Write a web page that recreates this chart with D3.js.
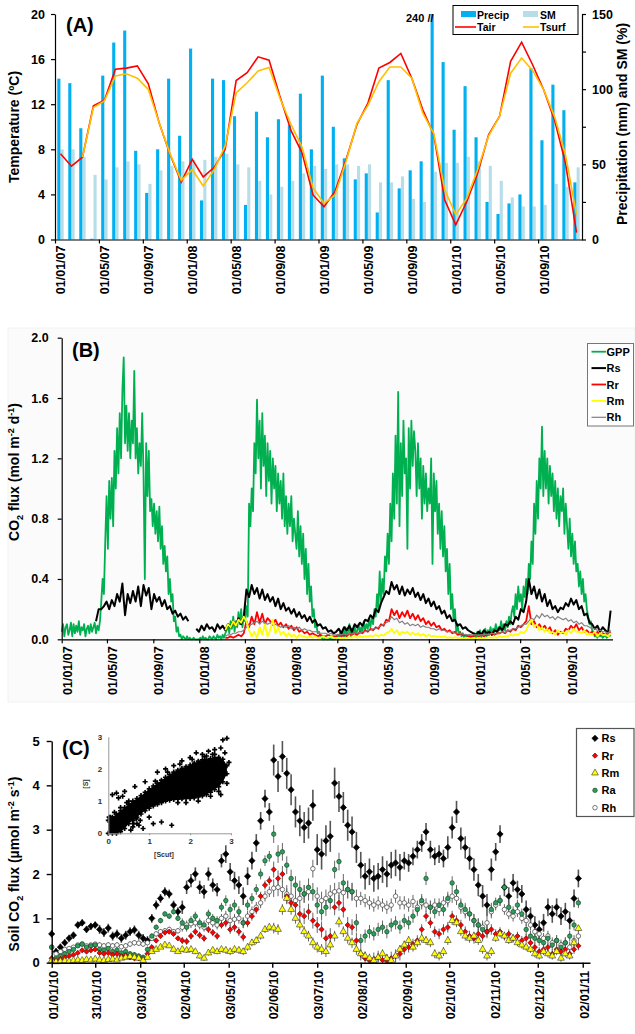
<!DOCTYPE html>
<html><head><meta charset="utf-8">
<script src="https://cdn.jsdelivr.net/npm/d3@7/dist/d3.min.js"></script>
<style>
body{margin:0;background:#fff}
svg{display:block}
text{font-family:"Liberation Sans",Arial,Helvetica,sans-serif;font-weight:bold}
</style></head><body>
<svg id="c" width="635" height="1034"></svg>
<script>
// ---------------- Panel A (monthly, Jan 2007 - Dec 2010) ----------------
const tickLabelsA = ["01/01/07","01/05/07","01/09/07","01/01/08","01/05/08","01/09/08","01/01/09","01/05/09","01/09/09","01/01/10","01/05/10","01/09/10"];
const precip = [107,104,74,0.5,109,131,139,59,31,60,107,69, 127,26,107,106,82,23,85,68,80,76,97,60, 109,75,54,40,44,18,106,34,46,52,240,118, 73,102,68,25,17,24,30,114,66,103,86,38];
const sm = [60,60,55,43,40,48,52,50,37,46,49,52, 53,53,55,57,50,48,39,30,35,39,44,49, 47,50,50,49,50,38,38,42,27,25,45,51, 51,55,52,49,39,28,22,22,23,37,35,48];
const tair = [7.6,6.5,7.3,11.85,12.35,15.1,15.2,15.4,13.8,10.3,7.5,5.1, 7.1,5.55,6.4,8.0,14.1,14.8,16.2,15.9,12.65,9.65,7.7,3.95, 2.9,4.25,7.05,10.2,12.1,15.2,15.7,16.5,14.3,11.5,9.3,3.5, 1.3,3.35,5.9,9.3,10.95,15.8,17.5,15.5,13.3,10.6,6.75,0.6];
const tsurf = [null,null,7.3,11.7,12.3,14.5,14.7,14.3,13.3,10.3,7.55,5.25, 6.2,4.75,6.2,8.3,13.0,13.9,14.95,15.25,12.5,10.2,8.2,4.6, 3.2,3.95,6.9,10.3,11.9,14.0,15.3,15.3,14.3,11.2,9.4,4.4, 2.2,3.65,6.2,9.2,10.95,14.75,16.1,15.0,13.3,10.9,7.5,2.2];

// ---------------- Panel B ----------------
// GPP sampled every 3.5 days from 01/01/07
const gpp2007 = [0.05,0.1,0.02,0.08,0.1,0.03,0.06,0.11,0.02,0.1,0.04,0.09,0.05,0.12,0.03,0.08,0.06,0.1,0.02,0.07,0.09,0.04,0.1,0.05,0.08,0.11,0.04,0.09,0.06,
 0.12,0.25,0.4,0.3,0.65,0.95,0.6,1.05,0.8,1.07,0.75,1.25,1.0,1.4,1.1,1.5,1.2,1.65,1.87,1.3,1.55,1.25,1.5,1.2,1.45,1.3,1.78,1.2,1.4,1.1,1.3,1.15,1.5,1.1,0.4,1.3,0.95,1.25,0.85,0.93,0.75,0.9,0.7,0.85,0.65,0.88,0.6,0.75,0.5,0.62,0.45,0.55,0.3,0.4,0.25,0.3,0.12,0.15,0.05,0.08,0.02,
 0.03,0.0,0.02,0.01,0.0,0.02,0.0,0.01,0.0,0.0,0.01,0.0,0.0,0.0];
const gpp2008 = [0.0,0.01,0.0,0.02,0.0,0.01,0.0,0.0,0.02,0.01,0.0,0.02,0.01,0.0,0.03,0.01,0.02,0.0,0.03,0.01,0.04,
 0.06,0.1,0.04,0.12,0.07,0.15,0.05,0.12,0.08,0.18,0.1,0.2,0.08,0.15,0.12,0.22,0.15,
 0.9,0.75,1.0,0.85,1.3,1.1,1.59,1.2,1.45,1.0,1.5,1.15,1.35,0.95,1.3,1.05,1.25,0.9,1.2,1.0,1.15,0.85,1.1,0.9,1.05,0.8,1.1,0.75,0.95,0.7,0.9,0.75,0.95,0.65,0.8,0.7,0.6,0.85,0.55,0.75,0.5,0.7,0.4,0.6,0.3,0.5,0.25,0.35,0.15,0.2,0.08,0.1,0.04,0.05,0.02,0.01,0.0,
 0.0,0.01,0.0,0.0,0.01,0.0,0.0,0.0,0.0];
const gpp2009 = [0.01,0.03,0.0,0.05,0.02,0.06,0.01,0.08,0.03,0.05,0.1,0.02,0.07,0.04,0.09,0.03,0.06,0.1,0.04,0.08,0.05,0.12,0.06,0.1,0.07,0.13,0.08,0.15,0.1,0.2,0.15,0.3,0.2,0.45,
 0.25,0.4,0.3,0.55,0.45,0.7,0.5,0.9,0.65,1.1,0.8,1.35,0.9,1.64,0.75,1.3,0.95,1.45,1.1,1.2,0.6,1.4,1.0,1.45,1.15,1.38,1.25,0.95,1.3,1.0,1.2,0.8,1.15,0.9,1.1,0.85,1.0,
 0.9,1.2,0.5,1.1,0.85,1.05,0.7,0.9,0.6,0.85,0.55,0.75,0.45,0.6,0.3,0.5,0.2,0.3,0.12,0.2,0.05,0.1,0.03,0.05,
 0.02,0.04,0.01,0.03,0.02,0.01,0.03,0.01,0.02];
const gpp2010 = [0.02,0.04,0.0,0.05,0.02,0.06,0.01,0.05,0.03,0.07,0.02,0.06,0.04,0.08,0.03,0.07,0.05,0.1,0.04,0.08,0.06,0.12,0.07,
 0.1,0.06,0.12,0.08,0.15,0.1,0.18, 0.22,0.15,0.3,0.2,0.35,0.25,0.3,0.2,0.35,0.28,0.4,0.3,0.5,
 0.4,0.65,0.5,0.9,0.7,1.05,0.8,1.2,1.0,1.41, 0.95,1.25,1.0,1.2,0.9,1.15,0.95,1.1,
 0.85,1.05,0.8,1.0,0.75,0.95,0.85,1.0,0.7,0.9,0.75, 0.6,0.8,0.55,0.7,0.5,0.65,0.45, 0.5,0.35,0.45,0.3,0.4,0.25,0.3,0.2,
 0.15,0.1,0.12,0.06,0.05, 0.02,0.03,0.01,0.04,0.02,0.03,0.01,0.02,0.03,0.01,0.02,0.03,0.02];
// respiration terms sampled weekly from 01/01/07
const rs2007 = [null,null,null,null,null,null,null,null,null,null,null,null,null,0.12,0.2,0.2,0.22,0.25,0.2,0.26,0.22,0.3,0.25,0.37,0.16,0.3,0.24,0.32,0.25,0.35,0.22,0.36,0.29,0.34,0.2,0.3,0.25,0.28,0.22,0.26,0.2,0.22,0.17,0.19,0.15,0.17,0.13,0.15,0.12,null,null,0.07];
const rs2008 = [0.05,0.09,0.06,0.1,0.07,0.08,0.05,0.1,0.07,0.09,0.06,0.1,0.08,0.12,0.09,0.14,0.1,0.15,0.33,0.28,0.36,0.3,0.34,0.27,0.33,0.26,0.3,0.25,0.28,0.22,0.27,0.2,0.24,0.19,0.21,0.17,0.2,0.15,0.18,0.14,0.16,0.12,0.15,0.11,0.13,0.09,0.1,0.07,0.08,0.05,0.06,0.04];
const rs2009 = [0.05,0.07,0.04,0.08,0.06,0.09,0.05,0.1,0.08,0.11,0.09,0.13,0.12,0.16,0.14,0.2,0.18,0.24,0.28,0.32,0.3,0.38,0.33,0.36,0.3,0.35,0.29,0.33,0.3,0.34,0.28,0.31,0.26,0.3,0.24,0.27,0.22,0.25,0.2,0.22,0.17,0.19,0.14,0.16,0.12,0.13,0.09,0.1,0.07,0.08,0.06,0.05];
const rs2010 = [0.04,0.03,0.05,0.03,0.06,0.04,0.05,0.03,0.06,0.05,0.08,0.06,0.1,0.09,0.12,0.1,0.15,0.13,0.2,0.18,0.25,0.4,0.3,0.35,0.27,0.33,0.25,0.3,0.22,0.26,0.2,0.22,0.18,0.21,0.2,0.24,0.22,0.27,0.23,0.26,0.2,0.22,0.16,0.17,0.11,0.1,0.07,0.09,0.05,0.08,0.06,0.04,0.19];
const rr2008 = [null,null,null,null,null,null,null,null,null,null,0.01,0.01,0.02,0.01,0.02,0.03,0.02,0.04,0.12,0.08,0.15,0.1,0.18,0.11,0.17,0.1,0.14,0.12,0.1,0.13,0.09,0.11,0.08,0.1,0.07,0.09,0.06,0.08,0.05,0.06,0.04,0.05,0.03,0.04,0.03,0.02,0.03,0.02,0.02,0.03,0.02,0.02];
const rr2009 = [0.02,0.03,0.02,0.03,0.02,0.04,0.03,0.04,0.03,0.05,0.04,0.06,0.05,0.07,0.06,0.08,0.07,0.1,0.09,0.13,0.12,0.2,0.16,0.19,0.14,0.18,0.15,0.19,0.14,0.17,0.13,0.16,0.12,0.14,0.1,0.12,0.09,0.11,0.08,0.09,0.06,0.07,0.05,0.06,0.04,0.05,0.03,0.04,0.03,0.03,0.02,0.02];
const rr2010 = [0.02,0.03,0.02,0.03,0.02,0.03,0.03,0.04,0.03,0.04,0.04,0.05,0.04,0.06,0.05,0.07,0.06,0.09,0.08,0.1,0.12,0.22,0.1,0.12,0.08,0.1,0.07,0.09,0.06,0.08,0.04,0.06,0.03,0.05,0.04,0.07,0.06,0.09,0.07,0.1,0.06,0.08,0.05,0.06,0.04,0.05,0.03,0.05,0.03,0.04,0.03,0.04,0.05];
const rm2008 = [null,null,null,null,null,null,null,null,null,null,0.06,0.1,0.08,0.12,0.09,0.13,0.11,0.15,0.12,0.06,0.02,0.05,0.01,0.08,0.03,0.1,0.02,0.06,0.13,0.04,0.08,0.03,0.05,0.02,0.04,0.02,0.03,0.01,0.03,0.02,0.02,0.01,0.02,0.01,0.02,0.01,0.01,0.02,0.01,0.01,0.02,0.01];
const rm2009 = [0.01,0.01,0.005,0.01,0.01,0.015,0.01,0.02,0.01,0.02,0.015,0.02,0.02,0.025,0.02,0.03,0.02,0.03,0.025,0.04,0.05,0.07,0.04,0.06,0.03,0.05,0.04,0.05,0.03,0.045,0.03,0.04,0.025,0.035,0.02,0.03,0.02,0.025,0.015,0.02,0.015,0.02,0.01,0.015,0.01,0.015,0.01,0.01,0.005,0.01,0.01,0.005];
const rm2010 = [0.01,0.005,0.01,0.005,0.01,0.01,0.015,0.01,0.015,0.01,0.02,0.015,0.02,0.02,0.03,0.025,0.035,0.03,0.05,0.04,0.06,0.1,0.13,0.08,0.1,0.06,0.08,0.05,0.07,0.04,0.05,0.03,0.06,0.04,0.05,0.03,0.06,0.04,0.07,0.05,0.05,0.04,0.06,0.03,0.04,0.03,0.05,0.02,0.04,0.03,0.03,0.02,0.04];
const rh2008 = [null,null,null,null,null,null,null,null,null,null,0.02,0.03,0.03,0.04,0.04,0.05,0.05,0.06,0.08,0.09,0.1,0.11,0.12,0.1,0.12,0.11,0.1,0.11,0.09,0.1,0.09,0.08,0.09,0.08,0.09,0.07,0.08,0.07,0.08,0.06,0.07,0.06,0.06,0.05,0.05,0.05,0.04,0.04,0.04,0.03,0.04,0.03];
const rh2009 = [0.03,0.03,0.03,0.035,0.03,0.04,0.035,0.04,0.04,0.045,0.05,0.05,0.06,0.06,0.07,0.07,0.08,0.09,0.1,0.11,0.12,0.15,0.13,0.14,0.11,0.12,0.1,0.11,0.09,0.1,0.09,0.1,0.08,0.09,0.08,0.08,0.07,0.07,0.06,0.07,0.06,0.06,0.05,0.05,0.05,0.04,0.04,0.04,0.035,0.03,0.03,0.03];
const rh2010 = [0.03,0.03,0.025,0.03,0.03,0.035,0.03,0.04,0.035,0.04,0.04,0.05,0.045,0.06,0.06,0.07,0.07,0.08,0.09,0.1,0.1,0.12,0.14,0.13,0.16,0.14,0.17,0.15,0.16,0.14,0.15,0.13,0.15,0.14,0.13,0.14,0.12,0.13,0.11,0.12,0.1,0.11,0.09,0.09,0.08,0.07,0.07,0.06,0.06,0.05,0.05,0.04,0.06];
const nullYear = [null,null,null,null,null,null,null,null,null,null,null,null,null,null,null,null,null,null,null,null,null,null,null,null,null,null,null,null,null,null,null,null,null,null,null,null,null,null,null,null,null,null,null,null,null,null,null,null,null,null,null,null];

// ---------------- Panel C (every 3rd day of 2010) ----------------
const cRs = [0.65,0.25,0.35,0.45,0.55,0.62,0.85,0.9,0.75,0.82, 0.85,0.75,0.68,0.78,0.6,0.65,0.55,0.62,0.7,0.74, 0.62,0.55,0.5,1.0,1.3,1.45,1.6,1.55,1.3,1.15, 1.25,1.7,1.85,2.0,1.7,1.6,2.0,1.75,1.65,2.3, 2.45,2.05,1.85,1.75,1.5,1.95,2.3,2.7,3.2,3.7, 3.4,4.57,4.2,4.65,4.27,3.9,3.4,3.2,3.05,3.15, 3.55,2.55,2.45,2.75,2.85,4.05,3.75,3.5,3.1,2.95, 2.6,2.2,1.95,2.05,1.9,1.95,2.1,2.0,2.2,2.25, 2.15,2.3,2.25,2.4,2.55,2.7,2.95,2.55,2.4,2.45, 2.35,2.6,3.05,3.4,2.8,2.6,2.35,2.1,1.75,1.5, 1.3,2.1,2.5,2.9,1.7,1.5,1.8,1.65,1.55,1.2, 1.05,0.85,0.75,0.9,1.25,1.1,1.25,1.05,1.15,0.95, 1.45,1.9];
const cRr = [0.1,0.05,0.08,0.12,0.15,0.18,0.22,0.28,0.25,0.28, 0.3,0.22,0.2,0.22,0.18,0.2,0.15,0.17,0.12,0.1, 0.1,0.08,0.2,0.35,0.5,0.6,0.68,0.7,0.65,0.55, 0.5,0.48,0.6,0.7,0.62,0.55,0.75,0.68,0.6,0.85, 0.9,0.75,0.8,0.7,0.58,0.9,1.05,1.2,1.5,1.75, 1.85,2.1,1.9,2.0,1.5,1.35,1.3,1.1,1.05,1.15, 0.95,0.85,0.75,0.55,0.6,1.25,1.35,1.2,0.85,0.8, 0.5,0.2,0.1,0.05,0.08,0.12,0.06,0.04,0.1,0.15, 0.2,0.3,0.35,0.42,0.5,0.75,1.05,0.9,0.7,0.65, 0.75,0.8,1.05,0.95,0.85,0.7,0.6,0.55,0.65,0.6, 0.7,0.75,0.65,0.7,0.6,0.65,0.55,0.6,0.5,0.55, 0.45,0.35,0.25,0.3,0.35,0.2,0.3,0.25,0.3,0.2, 0.3,0.38];
const cRm = [0.05,0.02,0.03,0.04,0.03,0.05,0.06,0.05,0.07,0.06, 0.08,0.06,0.05,0.07,0.08,0.06,0.1,0.12,0.14,0.12, 0.1,0.05,0.12,0.25,0.3,0.35,0.4,0.38,0.3,0.25, 0.3,0.28,0.3,0.25,0.15,0.1,0.22,0.28,0.25,0.3, 0.28,0.25,0.3,0.28,0.25,0.35,0.45,0.5,0.6,0.75, 0.8,0.78,0.75,1.2,1.45,1.2,1.0,0.85,0.7,0.6, 0.45,0.35,0.3,0.25,0.4,0.6,0.92,0.7,0.55,0.45, 0.3,0.2,0.15,0.1,0.05,0.12,0.2,0.1,0.05,0.15, 0.3,0.4,0.5,0.35,0.45,0.55,0.5,0.45,0.2,0.15, 0.25,0.5,0.95,0.9,0.7,0.6,0.55,0.6,0.5,0.3, 0.15,0.25,0.55,0.65,0.6,0.5,0.55,0.45,0.4,0.35, 0.3,0.2,0.15,0.25,0.2,0.15,0.25,0.1,0.2,0.15, 0.45,0.77];
const cRa = [0.35,0.1,0.15,0.2,0.25,0.3,0.38,0.42,0.35,0.38, 0.4,0.3,0.28,0.32,0.25,0.28,0.22,0.25,0.2,0.18, 0.15,0.12,0.3,0.6,0.8,0.95,1.1,1.05,1.15,1.0, 0.9,0.8,0.95,1.05,0.9,0.85,1.1,1.0,0.95,1.25, 1.4,1.2,1.3,1.15,0.9,1.3,1.45,1.65,2.0,2.3, 2.4,2.9,2.45,2.5,2.2,1.9,1.75,1.65,1.55,1.7, 1.6,1.3,1.15,1.25,1.4,2.1,2.28,1.8,1.65,1.6, 0.9,0.5,0.6,0.7,0.65,0.75,0.8,0.7,0.85,0.9, 0.8,0.95,0.9,1.05,1.2,1.4,1.9,1.25,1.15,1.3, 1.2,1.45,1.8,1.6,1.3,1.2,1.1,0.95,0.85,0.75, 0.7,1.2,1.35,1.4,1.7,1.25,1.15,1.3,1.1,0.75, 0.6,0.55,0.5,0.45,0.55,0.4,0.5,0.35,0.45,0.6, 0.85,1.35];
const cRh = [0.35,0.2,0.25,0.3,0.32,0.35,0.4,0.42,0.38,0.4, 0.42,0.4,0.38,0.4,0.38,0.4,0.36,0.38,0.42,0.45, 0.44,0.42,0.45,0.55,0.65,0.7,0.72,0.75,0.7,0.72, 0.8,0.85,0.88,0.9,0.85,0.8,0.95,0.9,0.85,1.0, 1.05,0.95,0.98,1.0,0.9,1.05,1.15,1.25,1.35,1.5, 1.6,1.68,1.7,1.65,1.55,1.5,1.4,1.45,1.55,1.6, 2.12,1.5,1.4,1.45,1.55,1.6,1.62,1.58,1.65,1.6, 1.45,1.45,1.4,1.35,1.3,1.35,1.3,1.25,1.3,1.5, 1.35,1.35,1.3,1.38,1.25,1.35,1.3,1.25,1.3,1.2, 1.35,1.4,1.5,1.45,1.25,1.15,1.1,0.95,0.85,0.8, 0.9,1.15,1.3,1.4,1.2,1.1,1.05,1.15,1.0,0.95, 0.85,0.7,0.65,0.55,0.6,0.45,0.5,0.4,0.45,0.35, 0.5,0.6];
// monthly typical error (half-length of the vertical bars)
const errRs = [0.08,0.1,0.1,0.15,0.2,0.35,0.35,0.3,0.2,0.25,0.2,0.2];
const errRr = [0.03,0.05,0.05,0.08,0.1,0.18,0.18,0.15,0.12,0.12,0.1,0.1];
const errRm = [0.02,0.03,0.04,0.06,0.08,0.12,0.12,0.1,0.1,0.1,0.08,0.08];
const errRa = [0.04,0.06,0.06,0.1,0.12,0.2,0.2,0.15,0.15,0.15,0.12,0.12];
const errRh = [0.04,0.06,0.06,0.1,0.12,0.2,0.2,0.15,0.15,0.15,0.12,0.12];
const tickDatesC = ["2010-01-01","2010-01-31","2010-03-03","2010-04-02","2010-05-03","2010-06-02","2010-07-03","2010-08-02","2010-09-02","2010-10-02","2010-11-02","2010-12-02","2011-01-02"];
// inset: dense core of the [Scut] vs [S] cloud (lower / upper edge) and scattered points
const coreX  = [0,0.1,0.2,0.3,0.4,0.5,0.6,0.7,0.8,0.9,1.0,1.1,1.2,1.3,1.4,1.5,1.6,1.7,1.8,1.9,2.0,2.1,2.2,2.3,2.4,2.5,2.6,2.7,2.8,2.9];
const coreLo = [0.0,0.0,0.0,0.05,0.15,0.3,0.4,0.5,0.6,0.7,0.78,0.85,0.9,0.95,1.0,1.03,1.05,1.06,1.07,1.08,1.08,1.1,1.13,1.16,1.2,1.28,1.36,1.45,1.6,1.85];
const coreHi = [0.4,0.5,0.6,0.7,0.8,0.9,1.0,1.08,1.17,1.27,1.38,1.47,1.56,1.65,1.74,1.82,1.9,1.96,2.02,2.07,2.12,2.18,2.24,2.28,2.3,2.32,2.34,2.36,2.3,2.1];
const scatX = [0.1,0.2,0.25,0.35,0.4,0.55,0.6,0.7,0.75,0.85,1.1,1.3,1.55,1.0,0.65,0.9,1.2,1.4,1.6,1.8,2.0,2.15,2.3,2.45,2.6,2.75,2.8,2.9,2.85,2.95,2.9,2.7,2.5,2.2,1.9,1.7,2.6,2.4,0.05,0.15,0.3,0.5,2.75,0.62,0.78,0.68,2.05,2.35,2.55,1.75,1.45,1.15,0.45,0.02];
const scatY = [1.2,1.25,1.1,1.15,1.3,0.1,0.2,0.3,0.25,0.15,0.3,0.35,0.25,0.5,1.45,1.6,1.9,2.0,2.1,2.25,2.35,2.5,2.45,2.55,2.6,2.65,2.9,2.95,2.5,2.2,1.55,1.3,1.15,1.0,0.95,0.95,2.45,2.4,0.5,0.65,0.8,1.0,1.2,0.3,0.4,0.45,2.3,2.38,2.45,2.15,1.9,1.62,0.95,0.5];

// =====================================================================
const FONT = '"Liberation Sans", Arial, Helvetica, sans-serif';
const svg = d3.select("#c");

function styleAxis(g, fs, sw) {
  g.attr("font-family", FONT).attr("font-size", fs).attr("font-weight", "bold");
  g.selectAll("path.domain").attr("stroke", "#000").attr("stroke-width", sw || 1.2);
  g.selectAll(".tick line").attr("stroke", "#000").attr("stroke-width", sw || 1.2);
  g.selectAll(".tick text").attr("fill", "#000");
}
function rotLabels(g, gap, shift) {
  g.selectAll(".tick text").attr("transform", "rotate(-90)").attr("text-anchor", "end")
    .attr("x", -gap).attr("y", shift).attr("dy", "0.36em");
}
function rich(sel, parts, fs) {
  let cur = 0;
  parts.forEach(([s, t]) => {
    const target = t === "sub" ? fs * 0.3 : t === "sup" ? -fs * 0.38 : 0;
    sel.append("tspan").attr("dy", target - cur).attr("font-size", t === "n" ? fs : fs * 0.65).text(s);
    cur = target;
  });
}
function yTitle(x, y, parts, fs) {
  const t = svg.append("text").attr("transform", `translate(${x},${y}) rotate(-90)`)
    .attr("text-anchor", "middle").attr("font-size", fs).attr("fill", "#000");
  rich(t, parts, fs);
  return t;
}

// ---------------- Panel A ----------------
{
  const A = {l: 55, r: 582, t: 14, b: 239.5};
  const g = svg.append("g");
  const xA = d3.scaleBand().domain(d3.range(precip.length)).range([A.l, A.r]);
  const xSub = d3.scaleBand().domain(["p", "s"]).range([0, xA.bandwidth()]).paddingInner(0.05).paddingOuter(0.7);
  const xm = d3.scaleLinear().domain([0, precip.length]).range([A.l, A.r]);
  const yT = d3.scaleLinear().domain([0, 20]).range([A.b, A.t]);
  const yP = d3.scaleLinear().domain([0, 150]).range([A.b, A.t]);
  const cap = v => Math.min(v, 150);

  g.selectAll("rect.sm").data(sm).join("rect").attr("class", "sm")
    .attr("x", (d, i) => xA(i) + xSub("s")).attr("width", xSub.bandwidth())
    .attr("y", d => yP(d)).attr("height", d => yP(0) - yP(d)).attr("fill", "#B7DEE8");
  g.selectAll("rect.pr").data(precip).join("rect").attr("class", "pr")
    .attr("x", (d, i) => xA(i) + xSub("p")).attr("width", xSub.bandwidth())
    .attr("y", d => yP(cap(d))).attr("height", d => yP(0) - yP(cap(d))).attr("fill", "#00B0F0");

  const ln = d3.line().defined(d => d != null).x((d, i) => xA(i) + xA.bandwidth() / 2).y(d => yT(d));
  g.append("path").datum(tair).attr("d", ln).attr("fill", "none").attr("stroke", "#FF0000").attr("stroke-width", 1.6);
  g.append("path").datum(tsurf).attr("d", ln).attr("fill", "none").attr("stroke", "#FFC000").attr("stroke-width", 1.6);

  const gl = g.append("g").attr("transform", `translate(${A.l},0)`)
    .call(d3.axisLeft(yT).tickValues([0, 4, 8, 12, 16, 20]).tickSize(4).tickSizeOuter(0).tickPadding(6));
  styleAxis(gl, 12.5);
  const gr = g.append("g").attr("transform", `translate(${A.r},0)`)
    .call(d3.axisRight(yP).tickValues(d3.range(0, 151, 25)).tickFormat(d => d % 50 ? "" : d).tickSize(4).tickSizeOuter(0).tickPadding(6));
  styleAxis(gr, 12.5);
  const gb = g.append("g").attr("transform", `translate(0,${A.b})`)
    .call(d3.axisBottom(xm).tickValues(d3.range(0, precip.length, 4)).tickFormat("").tickSize(4).tickSizeOuter(0));
  styleAxis(gb, 12.5);
  const gbl = g.append("g").attr("transform", `translate(0,${A.b})`)
    .call(d3.axisBottom(xm).tickValues(d3.range(0.5, precip.length, 4)).tickFormat((d, i) => tickLabelsA[i]).tickSize(0).tickSizeOuter(0));
  styleAxis(gbl, 12.5);
  gbl.select("path.domain").remove();
  rotLabels(gbl, 6, 0);

  yTitle(19, 127, [["Temperature (ºC)", "n"]], 14);
  yTitle(627, 124, [["Precipitation (mm) and SM (%)", "n"]], 14);
  svg.append("text").attr("x", 66).attr("y", 32).attr("font-size", 20).text("(A)");
  svg.append("text").attr("x", 406).attr("y", 22).attr("font-size", 11).text("240 //");

  const lg = svg.append("g").attr("font-size", 10.5);
  lg.append("rect").attr("x", 453).attr("y", 5.5).attr("width", 125).attr("height", 29).attr("fill", "#fff").attr("stroke", "#000");
  lg.append("rect").attr("x", 461).attr("y", 11).attr("width", 15).attr("height", 6).attr("fill", "#00B0F0");
  lg.append("text").attr("x", 477).attr("y", 18.5).text("Precip");
  lg.append("rect").attr("x", 523).attr("y", 11).attr("width", 15).attr("height", 6).attr("fill", "#B7DEE8");
  lg.append("text").attr("x", 540).attr("y", 18.5).text("SM");
  lg.append("line").attr("x1", 455).attr("x2", 476).attr("y1", 27).attr("y2", 27).attr("stroke", "#FF0000").attr("stroke-width", 1.6);
  lg.append("text").attr("x", 477).attr("y", 31).text("Tair");
  lg.append("line").attr("x1", 523).attr("x2", 539).attr("y1", 27).attr("y2", 27).attr("stroke", "#FFC000").attr("stroke-width", 1.6);
  lg.append("text").attr("x", 540).attr("y", 31).text("Tsurf");
}

// ---------------- Panel B ----------------
{
  svg.append("rect").attr("x", 8).attr("y", 328).attr("width", 627).attr("height", 374).attr("fill", "#fbfbfb").attr("stroke", "#f1f1f1");
  const B = {l: 61.7, r: 612.5, t: 337.7, b: 639.3};
  const t0 = new Date(2007, 0, 1);
  const xB = d3.scaleTime().domain([t0, new Date(2011, 0, 1)]).range([B.l, B.r]);
  const yB = d3.scaleLinear().domain([0, 2]).range([B.b, B.t]);
  const wk = i => d3.timeDay.offset(t0, 7 * i);
  const hw = i => d3.timeHour.offset(t0, 84 * i);
  const series = [
    {name: "GPP", data: gpp2007.concat(gpp2008, gpp2009, gpp2010), color: "#00B050", w: 1.8, at: hw},
    {name: "Rs", data: rs2007.concat(rs2008, rs2009, rs2010), color: "#000000", w: 2, at: wk},
    {name: "Rr", data: nullYear.concat(rr2008, rr2009, rr2010), color: "#FF0000", w: 1.8, at: wk},
    {name: "Rh", data: nullYear.concat(rh2008, rh2009, rh2010), color: "#808080", w: 1.2, at: wk},
    {name: "Rm", data: nullYear.concat(rm2008, rm2009, rm2010), color: "#FFFF00", w: 1.8, at: wk}
  ];
  const g = svg.append("g");
  series.forEach(s => {
    const ln = d3.line().defined(d => d != null).x((d, i) => xB(s.at(i))).y(d => yB(d));
    g.append("path").datum(s.data).attr("d", ln).attr("fill", "none")
      .attr("stroke", s.color).attr("stroke-width", s.w).attr("stroke-linejoin", "round");
  });

  const gl = g.append("g").attr("transform", `translate(${B.l},0)`)
    .call(d3.axisLeft(yB).tickValues([0, 0.4, 0.8, 1.2, 1.6, 2.0]).tickFormat(d3.format(".1f")).tickSize(4).tickSizeOuter(0).tickPadding(9));
  styleAxis(gl, 12.5);
  const ticksB = d3.timeMonth.every(4).range(t0, new Date(2010, 9, 1));
  const gb = g.append("g").attr("transform", `translate(0,${B.b})`)
    .call(d3.axisBottom(xB).tickValues(ticksB).tickFormat(d3.timeFormat("%d/%m/%y")).tickSize(4).tickSizeOuter(0));
  styleAxis(gb, 12.5);
  rotLabels(gb, 7, 5);

  yTitle(19, 472, [["CO", "n"], ["2", "sub"], [" flux (mol m", "n"], ["-2", "sup"], [" d", "n"], ["-1", "sup"], [")", "n"]], 14);
  svg.append("text").attr("x", 72).attr("y", 357).attr("font-size", 20).text("(B)");

  const lg = svg.append("g").attr("font-size", 11);
  lg.append("rect").attr("x", 587.5).attr("y", 343.5).attr("width", 46).attr("height", 82.5).attr("fill", "#fff").attr("stroke", "#777");
  ["GPP", "Rs", "Rr", "Rm", "Rh"].forEach((nm, k) => {
    const s = series.find(q => q.name === nm);
    const y = 351.7 + k * 16.4;
    lg.append("line").attr("x1", 591.5).attr("x2", 606).attr("y1", y).attr("y2", y).attr("stroke", s.color).attr("stroke-width", s.w);
    lg.append("text").attr("x", 606.5).attr("y", y + 4).text(nm);
  });
}

// ---------------- Panel C ----------------
{
  const C = {l: 51.7, r: 590, t: 741, b: 962.7};
  const c0 = new Date(2010, 0, 1);
  const xC = d3.scaleTime().domain([c0, d3.timeHour.offset(c0, 371 * 24)]).range([C.l, C.r]);
  const yC = d3.scaleLinear().domain([0, 5]).range([C.b, C.t]);
  const dayOf = i => d3.timeDay.offset(c0, 3 * i);
  const g = svg.append("g");

  const series = [
    {name: "Rs", data: cRs, err: errRs, sym: d3.symbolSquare, size: 20, rot: 45, fill: "#000", stroke: "#000", ew: 1.6, ec: "#555"},
    {name: "Rh", data: cRh, err: errRh, sym: d3.symbolCircle, size: 16, rot: 0, fill: "#fff", stroke: "#222", ew: 1, ec: "#666"},
    {name: "Ra", data: cRa, err: errRa, sym: d3.symbolCircle, size: 16, rot: 0, fill: "#2E9E5B", stroke: "#0d3d20", ew: 1, ec: "#666"},
    {name: "Rr", data: cRr, err: errRr, sym: d3.symbolSquare, size: 14, rot: 45, fill: "#FF0000", stroke: "#5a0000", ew: 1, ec: "#666"},
    {name: "Rm", data: cRm, err: errRm, sym: d3.symbolTriangle, size: 20, rot: 0, fill: "#FFFF00", stroke: "#333", ew: 1, ec: "#666"}
  ];
  series.forEach(s => {
    const pts = s.data.map((v, i) => ({v, d: dayOf(i)}));
    g.append("g").selectAll("line").data(pts).join("line")
      .attr("x1", p => xC(p.d)).attr("x2", p => xC(p.d))
      .attr("y1", p => yC(Math.max(0, p.v - s.err[p.d.getMonth()])))
      .attr("y2", p => yC(p.v + s.err[p.d.getMonth()]))
      .attr("stroke", s.ec).attr("stroke-width", s.ew);
  });
  series.forEach(s => {
    const pts = s.data.map((v, i) => ({v, d: dayOf(i)}));
    g.append("g").selectAll("path").data(pts).join("path")
      .attr("d", d3.symbol().type(s.sym).size(s.size))
      .attr("transform", p => `translate(${xC(p.d)},${yC(p.v)}) rotate(${s.rot})`)
      .attr("fill", s.fill).attr("stroke", s.stroke).attr("stroke-width", 0.6);
  });

  const gl = g.append("g").attr("transform", `translate(${C.l},0)`)
    .call(d3.axisLeft(yC).tickValues([0, 1, 2, 3, 4, 5]).tickFormat(d3.format("d")).tickSize(5).tickSizeOuter(0).tickPadding(7));
  styleAxis(gl, 13, 1.4);
  const parse = d3.timeParse("%Y-%m-%d");
  const gb = g.append("g").attr("transform", `translate(0,${C.b})`)
    .call(d3.axisBottom(xC).tickValues(tickDatesC.map(parse)).tickFormat(d3.timeFormat("%d/%m/%y")).tickSize(5).tickSizeOuter(0));
  styleAxis(gb, 12.5, 1.4);
  rotLabels(gb, 8, 1);

  yTitle(19, 864, [["Soil CO", "n"], ["2", "sub"], [" flux (µmol m", "n"], ["-2", "sup"], [" s", "n"], ["-1", "sup"], [")", "n"]], 14);
  svg.append("text").attr("x", 62).attr("y", 755).attr("font-size", 20).text("(C)");

  // inset
  const xi = d3.scaleLinear().domain([0, 3]).range([108.3, 231]);
  const yi = d3.scaleLinear().domain([0, 3]).range([833.3, 736.7]);
  const ig = svg.append("g");
  const core = coreX.map((x, k) => ({x, lo: coreLo[k], hi: coreHi[k]}));
  ig.append("path").datum(core)
    .attr("d", d3.area().x(d => xi(d.x)).y0(d => yi(d.lo)).y1(d => yi(d.hi)).curve(d3.curveCatmullRom))
    .attr("fill", "#000");
  const edge = core.flatMap(d => [{x: d.x, y: d.lo}, {x: d.x, y: d.hi}]);
  const scat = scatX.map((x, k) => ({x, y: scatY[k]}));
  ig.selectAll("path.pt").data(edge.concat(scat)).join("path").attr("class", "pt")
    .attr("d", d3.symbol().type(d3.symbolCross).size(14))
    .attr("transform", p => `translate(${xi(p.x)},${yi(p.y)})`).attr("fill", "#000");
  const ixa = ig.append("g").attr("transform", "translate(0,833.3)")
    .call(d3.axisBottom(xi).tickValues([0, 1, 2, 3]).tickFormat(d3.format("d")).tickSize(2).tickSizeOuter(0).tickPadding(3));
  const iya = ig.append("g").attr("transform", "translate(108.3,0)")
    .call(d3.axisLeft(yi).tickValues([0, 1, 2, 3]).tickFormat(d3.format("d")).tickSize(0).tickSizeOuter(0).tickPadding(6));
  [ixa, iya].forEach(a => {
    a.attr("font-family", FONT).attr("font-size", 8).attr("font-weight", "normal");
    a.selectAll("path.domain").attr("stroke", "#999");
    a.selectAll(".tick line").attr("stroke", "#999");
    a.selectAll("text").attr("fill", "#333").attr("font-weight", "normal");
  });
  ig.append("text").attr("transform", "translate(88,784) rotate(-90)").attr("text-anchor", "middle")
    .attr("font-size", 7).attr("font-weight", "normal").attr("fill", "#333").text("[S]");
  ig.append("text").attr("x", 164).attr("y", 857).attr("text-anchor", "middle")
    .attr("font-size", 7).attr("font-weight", "normal").attr("fill", "#333").text("[Scut]");

  const lg = svg.append("g").attr("font-size", 11);
  lg.append("rect").attr("x", 576.5).attr("y", 728.5).attr("width", 57.5).attr("height", 88).attr("fill", "#fff").attr("stroke", "#555").attr("stroke-width", 1.2);
  ["Rs", "Rr", "Rm", "Ra", "Rh"].forEach((nm, k) => {
    const s = series.find(q => q.name === nm);
    const y = 738.3 + k * 17.35;
    lg.append("path").attr("d", d3.symbol().type(s.sym).size(s.size))
      .attr("transform", `translate(595,${y}) rotate(${s.rot})`)
      .attr("fill", s.fill).attr("stroke", s.stroke).attr("stroke-width", 0.6);
    lg.append("text").attr("x", 601.5).attr("y", y + 4).text(nm);
  });
}
</script></body></html>
